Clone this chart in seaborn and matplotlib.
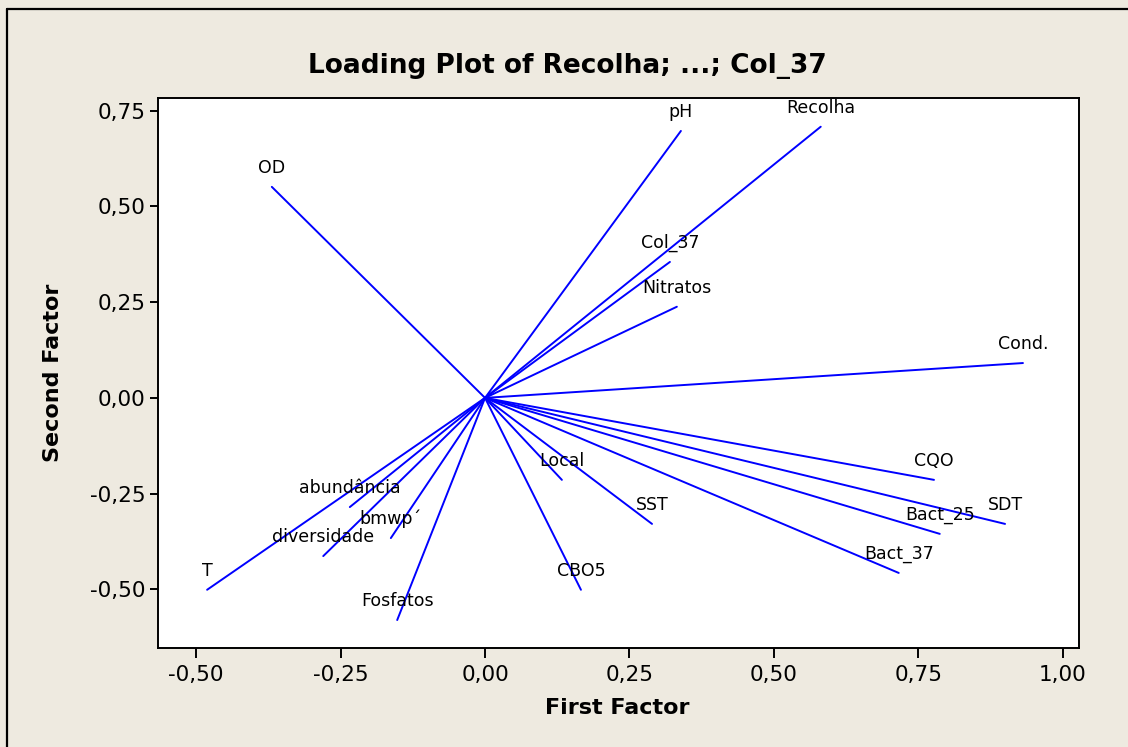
import matplotlib
matplotlib.use("Agg")
import matplotlib.pyplot as plt
from matplotlib.lines import Line2D
from matplotlib.ticker import FixedLocator, FuncFormatter
import numpy as np
import pandas as pd
import seaborn as sns

# Factor loadings (first factor, second factor) for each variable
variables = ["OD", "pH", "Recolha", "Col_37", "Nitratos", "Cond.", "CQO", "SDT",
             "Bact_25", "Bact_37", "Local", "SST", "CBO5", "T", "abundância",
             "diversidade", "bmwp´", "Fosfatos"]
factor1 = [-0.369, 0.339, 0.581, 0.320, 0.332, 0.931, 0.777, 0.900,
           0.787, 0.716, 0.133, 0.289, 0.166, -0.481, -0.234,
           -0.280, -0.163, -0.152]
factor2 = [0.551, 0.697, 0.708, 0.355, 0.238, 0.091, -0.214, -0.329,
           -0.355, -0.457, -0.214, -0.329, -0.501, -0.501, -0.285,
           -0.413, -0.366, -0.580]

x_ticks = [-0.50, -0.25, 0.00, 0.25, 0.50, 0.75, 1.00]
y_ticks = [-0.50, -0.25, 0.00, 0.25, 0.50, 0.75]

# Each loading is drawn as a segment from the origin to its endpoint
rows = []
for name, fx, fy in zip(variables, factor1, factor2):
    rows.append({"var": name, "step": 0, "First Factor": 0.0, "Second Factor": 0.0})
    rows.append({"var": name, "step": 1, "First Factor": fx, "Second Factor": fy})
segments = pd.DataFrame(rows)

sns.set_style("ticks")
plt.rcParams["font.family"] = ["DejaVu Sans"]
plt.rcParams["text.color"] = "black"
plt.rcParams["axes.labelcolor"] = "black"

bg = "#EEEAE0"
fig = plt.figure(figsize=(11.28, 7.47), dpi=100, facecolor=bg)
ax = fig.add_axes([158 / 1128, 1 - 648 / 747, (1079 - 158) / 1128, (648 - 98) / 747])
ax.set_facecolor("white")

sns.lineplot(data=segments, x="First Factor", y="Second Factor", units="var",
             estimator=None, sort=False, color="#0000FF", linewidth=1.4, ax=ax)

for name, fx, fy in zip(variables, factor1, factor2):
    ax.annotate(name, xy=(fx, fy), xytext=(0, 19), textcoords="offset pixels",
                ha="center", va="center", fontsize=12.5, color="black")

ax.set_xlim(-0.566, 1.028)
ax.set_ylim(-0.653, 0.783)
ax.xaxis.set_major_locator(FixedLocator(x_ticks))
ax.yaxis.set_major_locator(FixedLocator(y_ticks))
comma = FuncFormatter(lambda v, pos: f"{v:.2f}".replace(".", ","))
ax.xaxis.set_major_formatter(comma)
ax.yaxis.set_major_formatter(comma)
ax.tick_params(axis="x", direction="out", length=7, width=1.4, pad=5,
               labelsize=15.5, colors="black")
ax.tick_params(axis="y", direction="out", length=6, width=1.4, pad=3,
               labelsize=15.5, colors="black")
for side in ["left", "right", "top", "bottom"]:
    ax.spines[side].set_visible(True)
    ax.spines[side].set_color("black")
    ax.spines[side].set_linewidth(1.4)

ax.set_xlabel("First Factor", fontsize=16, fontweight="bold", va="center",
              color="black")
ax.set_ylabel("Second Factor", fontsize=16, fontweight="bold", va="center",
              color="black")
ax.xaxis.set_label_coords((617 - 158) / 921, (648 - 708) / 550)
ax.yaxis.set_label_coords((53 - 158) / 921, 0.5)

fig.text(567 / 1128, 1 - 66 / 747, "Loading Plot of Recolha; ...; Col_37",
         ha="center", va="center", fontsize=19, fontweight="bold", color="black")

# Frame lines along the top and left edges of the figure
fig.add_artist(Line2D([7 / 1128, 7 / 1128], [0, 1 - 9 / 747], color="black",
                      linewidth=1.6, transform=fig.transFigure))
fig.add_artist(Line2D([7 / 1128, 1], [1 - 9 / 747, 1 - 9 / 747], color="black",
                      linewidth=1.6, transform=fig.transFigure))

fig.savefig("out.png", dpi=100, facecolor=bg)
